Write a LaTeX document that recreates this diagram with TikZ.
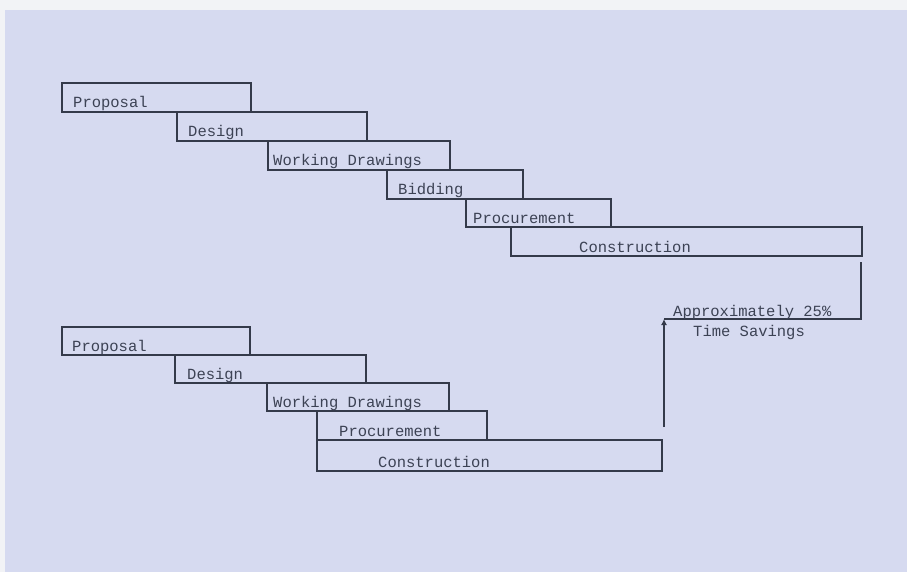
\documentclass[tikz,border=0pt]{standalone}
\usepackage{fontspec}
\setmonofont{Liberation Mono}
\usetikzlibrary{arrows.meta}
\definecolor{bgpaper}{RGB}{242,243,246}
\definecolor{bglav}{RGB}{214,218,240}
\definecolor{ink}{RGB}{52,58,74}
\definecolor{txt}{RGB}{60,66,84}
\tikzset{
  x=1pt,y=-1pt,
  bar/.style={draw=ink,line width=1.6pt,rectangle,anchor=north west,inner sep=0pt,outer sep=0pt},
  lbl/.style={anchor=base west,inner sep=0pt,text=txt,font=\fontsize{15.5}{17}\selectfont\ttfamily},
  conn/.style={draw=ink,line width=1.5pt},
}
\begin{document}
\begin{tikzpicture}
\useasboundingbox (0,0) rectangle (907,572);
\fill[bgpaper] (0,0) rectangle (907,572);
\fill[bglav] (5,10) rectangle (907,572);
% top chart
\node[bar,minimum width=189pt,minimum height=29pt] (p1) at (62,83) {};
\node[bar,minimum width=190pt,minimum height=29pt] (d1) at (177,112) {};
\node[bar,minimum width=182pt,minimum height=29pt] (w1) at (268,141) {};
\node[bar,minimum width=136pt,minimum height=29pt] (b1) at (387,170) {};
\node[bar,minimum width=145pt,minimum height=28pt] (r1) at (466,199) {};
\node[bar,minimum width=351pt,minimum height=29pt] (c1) at (511,227) {};
\node[lbl] (tp1) at ([xshift=11pt,yshift=4pt]p1.south west) {Proposal};
\node[lbl] (td1) at ([xshift=11pt,yshift=4pt]d1.south west) {Design};
\node[lbl] (tw1) at ([xshift=5pt,yshift=4pt]w1.south west) {Working Drawings};
\node[lbl] (tb1) at ([xshift=11pt,yshift=4pt]b1.south west) {Bidding};
\node[lbl] (tr1) at ([xshift=7pt,yshift=4pt]r1.south west) {Procurement};
\node[lbl] (tc1) at ([xshift=68pt,yshift=4pt]c1.south west) {Construction};
% bottom chart
\node[bar,minimum width=188pt,minimum height=28pt] (p2) at (62,327) {};
\node[bar,minimum width=191pt,minimum height=28pt] (d2) at (175,355) {};
\node[bar,minimum width=182pt,minimum height=28pt] (w2) at (267,383) {};
\node[bar,minimum width=170pt,minimum height=29pt] (r2) at (317,411) {};
\node[bar,minimum width=345pt,minimum height=31pt] (c2) at (317,440) {};
\node[lbl] (tp2) at ([xshift=10pt,yshift=4pt]p2.south west) {Proposal};
\node[lbl] (td2) at ([xshift=12pt,yshift=4pt]d2.south west) {Design};
\node[lbl] (tw2) at ([xshift=6pt,yshift=4pt]w2.south west) {Working Drawings};
\node[lbl] (tr2) at ([xshift=22pt,yshift=4pt]r2.south west) {Procurement};
\node[lbl] (tc2) at ([xshift=61pt,yshift=4pt]c2.south west) {Construction};
% time savings marker
\coordinate (rtop) at (861,262);
\coordinate (rcorner) at (861,319);
\coordinate (lcorner) at (664,319);
\coordinate (lbot) at (664,427);
\draw[conn] (rtop) -- (rcorner) -- (lcorner);
\draw[conn,-{Latex[length=6pt,width=6pt]}] (lbot) -- (lcorner);
\node[lbl] (ts1) at (673,316) {Approximately 25\%};
\node[lbl] (ts2) at (693,336) {Time Savings};
\end{tikzpicture}
\end{document}
